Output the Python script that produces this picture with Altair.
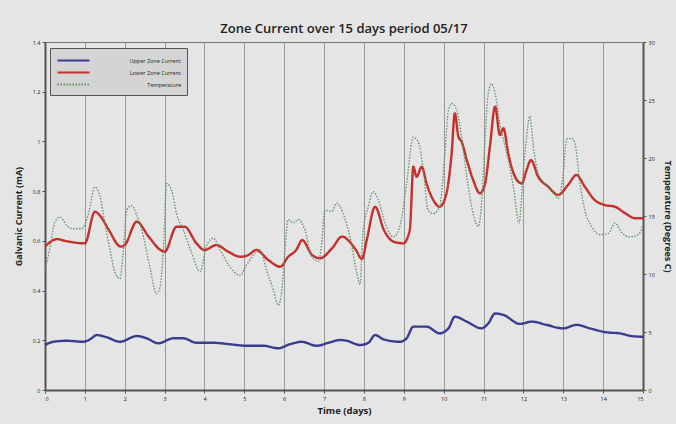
import altair as alt
import pandas as pd

# ---- data ----
upper_day = [0, 0.21, 0.54, 0.96, 1.13, 1.3, 1.55, 1.88, 2.3, 2.55, 2.84, 3.22, 3.47, 3.8, 4.22, 4.64,
             5.06, 5.47, 5.85, 6.14, 6.44, 6.81, 7.15, 7.4, 7.57, 7.9, 8.11, 8.28, 8.49, 8.9, 9.07, 9.24,
             9.57, 9.9, 10.12, 10.28, 10.58, 10.95, 11.12, 11.29, 11.5, 11.91, 12.21, 12.58, 13.0,
             13.33, 13.67, 14.09, 14.42, 14.71, 15.0]
upper_current = [0.181, 0.194, 0.198, 0.194, 0.204, 0.221, 0.212, 0.194, 0.217, 0.208, 0.188, 0.208,
                 0.208, 0.19, 0.19, 0.184, 0.178, 0.178, 0.168, 0.184, 0.194, 0.178, 0.192, 0.201,
                 0.198, 0.181, 0.19, 0.221, 0.204, 0.194, 0.208, 0.255, 0.255, 0.228, 0.248, 0.295,
                 0.275, 0.248, 0.268, 0.308, 0.302, 0.266, 0.275, 0.262, 0.248, 0.262, 0.248, 0.232,
                 0.228, 0.217, 0.214]

lower_day = [0, 0.3, 0.5, 1.0, 1.25, 1.4, 1.6, 1.9, 2.0, 2.3, 2.6, 2.9, 3.0, 3.3, 3.5, 3.8, 4.0,
             4.3, 4.6, 4.9, 5.1, 5.3, 5.6, 5.9, 6.1, 6.3, 6.45, 6.7, 6.9, 7.2, 7.45, 7.8, 7.95,
             8.07, 8.28, 8.5, 8.74, 8.99, 9.15, 9.24, 9.32, 9.45, 9.57, 9.74, 9.9, 10.07, 10.2,
             10.28, 10.37, 10.45, 10.58, 10.74, 10.91, 11.04, 11.16, 11.29, 11.41, 11.5, 11.62,
             11.79, 11.96, 12.08, 12.19, 12.37, 12.62, 12.87, 13.12, 13.33, 13.54, 13.79, 14.05,
             14.3, 14.55, 14.8, 15.0]
lower_current = [0.577, 0.607, 0.6, 0.59, 0.717, 0.697, 0.644, 0.577, 0.583, 0.677, 0.617, 0.563,
                 0.556, 0.657, 0.657, 0.59, 0.563, 0.583, 0.556, 0.536, 0.543, 0.563, 0.523, 0.496,
                 0.536, 0.563, 0.603, 0.543, 0.53, 0.57, 0.617, 0.563, 0.527, 0.603, 0.737, 0.644,
                 0.597, 0.59, 0.644, 0.898, 0.858, 0.898, 0.831, 0.764, 0.737, 0.791, 0.952, 1.113,
                 1.019, 0.999, 0.925, 0.845, 0.791, 0.831, 0.979, 1.14, 1.026, 1.053, 0.952, 0.858,
                 0.831, 0.885, 0.925, 0.858, 0.818, 0.785, 0.825, 0.865, 0.818, 0.764, 0.744, 0.737,
                 0.711, 0.691, 0.691]

temp_day = [0, 0.13, 0.25, 0.38, 0.54, 0.71, 0.92, 1.09, 1.25, 1.38, 1.5, 1.63, 1.76, 1.88, 1.96,
            2.05, 2.17, 2.3, 2.47, 2.63, 2.8, 2.88, 2.97, 3.05, 3.18, 3.3, 3.47, 3.68, 3.89, 4.05,
            4.22, 4.39, 4.64, 4.89, 5.06, 5.27, 5.39, 5.56, 5.73, 5.85, 5.94, 6.02, 6.1, 6.23, 6.35,
            6.52, 6.69, 6.86, 6.94, 7.02, 7.19, 7.32, 7.48, 7.65, 7.82, 7.9, 7.98, 8.11, 8.23, 8.36,
            8.53, 8.74, 8.9, 9.07, 9.24, 9.36, 9.49, 9.61, 9.74, 9.9, 10.03, 10.12, 10.2, 10.33,
            10.45, 10.58, 10.74, 10.87, 10.95, 11.04, 11.12, 11.2, 11.29, 11.41, 11.58, 11.75,
            11.89, 12.0, 12.08, 12.16, 12.25, 12.37, 12.54, 12.75, 12.87, 13.0, 13.08, 13.21,
            13.29, 13.42, 13.54, 13.71, 13.92, 14.13, 14.3, 14.46, 14.67, 14.88, 15.0]
temperature = [10.3, 12.35, 14.5, 14.9, 14.2, 13.9, 13.9, 15.2, 17.5, 16.7, 14.4, 12.1, 10.1, 9.6,
               11.8, 15.5, 15.9, 15.1, 13.2, 10.6, 8.3, 8.8, 12.1, 17.8, 17.2, 15.2, 13.8, 11.8,
               10.2, 12.4, 13.1, 12.1, 10.6, 9.9, 10.8, 11.8, 12.1, 10.3, 8.6, 7.3, 8.6, 12.1,
               14.7, 14.4, 14.7, 13.8, 11.5, 11.1, 12.6, 15.5, 15.4, 16.1, 15.2, 13.2, 10.1, 9.1,
               13.8, 15.8, 17.1, 16.4, 14.4, 13.2, 14.1, 17.8, 21.8, 21.4, 19.0, 15.5, 15.2, 15.8,
               20.4, 24.1, 24.7, 24.1, 21.8, 18.4, 15.2, 14.1, 16.1, 21.8, 25.6, 26.4, 25.6, 23.0,
               20.4, 17.5, 14.4, 19.0, 21.8, 23.6, 21.0, 18.7, 17.8, 17.0, 16.5, 18.7, 21.6, 21.7,
               21.3, 17.8, 15.5, 14.1, 13.4, 13.5, 14.4, 13.6, 13.2, 13.4, 14.2]

series_names = ["Upper Zone Current", "Lower Zone Current", "Temperature"]
series_colors = ["#3b3b8f", "#c4302b", "#62906a"]
x_ticks = list(range(0, 16))
left_ticks = [0, 0.2, 0.4, 0.6, 0.8, 1.0, 1.2, 1.4]
right_ticks = [0, 5, 10, 15, 20, 25, 30]

# ---- tables ----
cur_df = pd.concat([
    pd.DataFrame({"day": upper_day, "value": upper_current, "series": series_names[0]}),
    pd.DataFrame({"day": lower_day, "value": lower_current, "series": series_names[1]}),
])
temp_df = pd.DataFrame({"day": temp_day, "value": temperature, "series": series_names[2]})

FONT = "Open Sans"
color_scale = alt.Scale(domain=series_names, range=series_colors)
dash_scale = alt.Scale(domain=series_names, range=[[1, 0], [1, 0], [1.5, 1.5]])

x_enc = alt.X("day:Q", scale=alt.Scale(domain=[0, 15], nice=False),
              axis=alt.Axis(values=x_ticks, title="Time (days)", grid=True, gridColor="#9a9a9a",
                            gridWidth=1, labelFontSize=5.5, titleFontSize=9.5, titleFontWeight="bold",
                            titlePadding=4, labelPadding=3, tickSize=3, domainColor="#555555",
                            domainWidth=2, tickColor="#555555"))

legend = alt.Legend(title=None, orient="none", legendX=5, legendY=6,
                    symbolType="M-1,0H5.4", symbolSize=100, symbolStrokeWidth=2.2,
                    labelFontSize=5.5, labelAlign="right", labelOffset=112, rowPadding=1,
                    padding=6, strokeColor="#555555", fillColor="#d4d4d4",
                    labelColor="#222222", labelFont=FONT)

currents = alt.Chart(cur_df).mark_line(strokeWidth=2.4, interpolate="monotone").encode(
    x=x_enc,
    y=alt.Y("value:Q", scale=alt.Scale(domain=[0, 1.4], nice=False),
            axis=alt.Axis(values=left_ticks, title="Galvanic Current (mA)", orient="left",
                          grid=False, labelFontSize=5.5, titleFontSize=9, titleFontWeight="bold",
                          titlePadding=9, tickSize=3, domainColor="#555555", domainWidth=2,
                          tickColor="#555555", labelExpr="format(datum.value, '~g')")),
    color=alt.Color("series:N", scale=color_scale, legend=legend, sort=series_names),
    strokeDash=alt.StrokeDash("series:N", scale=dash_scale, legend=legend, sort=series_names),
    detail="series:N",
)

temps = alt.Chart(temp_df).mark_line(strokeWidth=1.3, interpolate="monotone").encode(
    x=x_enc,
    y=alt.Y("value:Q", scale=alt.Scale(domain=[0, 30], nice=False),
            axis=alt.Axis(values=right_ticks, title="Temperature (Degrees C)", orient="right",
                          grid=False, labelFontSize=5.5, titleFontSize=9, titleFontWeight="bold",
                          titlePadding=8, tickSize=3, domainColor="#555555", domainWidth=2,
                          tickColor="#555555")),
    color=alt.Color("series:N", scale=color_scale, legend=legend, sort=series_names),
    strokeDash=alt.StrokeDash("series:N", scale=dash_scale, legend=legend, sort=series_names),
)

chart = alt.layer(currents, temps).resolve_scale(y="independent").properties(
    width=598, height=348,
    title=alt.TitleParams("Zone Current over 15 days period 05/17", fontSize=13, font=FONT,
                          fontWeight=600, color="#222222", anchor="middle", offset=4),
    autosize=alt.AutoSizeParams(type="none"),
    padding={"left": 45, "top": 42, "right": 33, "bottom": 34},
    background="#e5e5e5",
).configure_view(
    stroke="#777777", strokeWidth=1, fill="#e5e5e5"
).configure_axis(
    labelFont=FONT, titleFont=FONT, labelColor="#222222", titleColor="#222222"
)

chart.save("out.html", embed_options={"renderer": "svg", "actions": False})
